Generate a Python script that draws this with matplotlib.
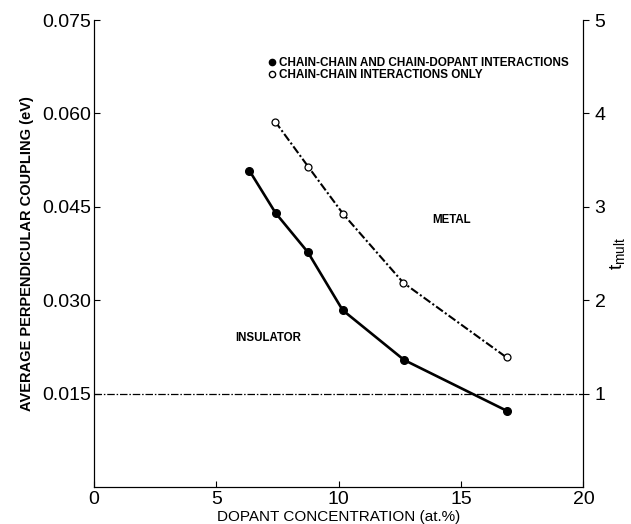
import matplotlib
matplotlib.use("Agg")
import matplotlib.pyplot as plt
from matplotlib.lines import Line2D

plt.rcParams['font.family'] = ['Liberation Sans', 'DejaVu Sans']

# data
conc_full = [6.35, 7.42, 8.74, 10.16, 12.67, 16.86]
coup_full = [0.0508, 0.0440, 0.0377, 0.0284, 0.0204, 0.01225]

conc_chain = [7.40, 8.76, 10.19, 12.64, 16.86]
coup_chain = [0.0587, 0.0514, 0.0438, 0.0328, 0.0208]

threshold = 0.015  # t_mult = 1

left_ticks = [0.015, 0.030, 0.045, 0.060, 0.075]
right_ticks = [1, 2, 3, 4, 5]
x_ticks = [0, 5, 10, 15, 20]

fig = plt.figure(figsize=(6.31, 5.24), dpi=100)
ax = fig.add_axes([0.149, 0.0706, 0.7757, 0.8912])

ax.axhline(threshold, color='black', lw=0.9, dashes=(6, 1.5, 1.2, 1.5))
ax.plot(conc_full, coup_full, color='black', lw=1.9, marker='o', ms=5.5,
        mfc='black', mec='black')
ax.plot(conc_chain, coup_chain, color='black', lw=1.5, dashes=(4, 1.2, 1, 1.2),
        marker='o', ms=5, mfc='white', mec='black', mew=0.9)

ax.set_xlim(0, 20)
ax.set_ylim(0, 0.075)
ax.set_xticks(x_ticks)
ax.set_yticks(left_ticks)
ax.set_yticklabels(['%.3f' % v for v in left_ticks])
ax.tick_params(axis='x', direction='in', length=4, labelsize=14, pad=3)
ax.tick_params(axis='y', direction='in', length=4, labelsize=14, pad=2)
ax.spines['top'].set_visible(False)

ax.set_xlabel('DOPANT CONCENTRATION (at.%)', fontsize=11, labelpad=1)
ax.set_ylabel('AVERAGE PERPENDICULAR COUPLING (eV)', fontsize=10.5,
              fontweight='bold', labelpad=6)

ax2 = ax.twinx()
ax2.set_ylim(0, 5)
ax2.set_yticks(right_ticks)
ax2.tick_params(axis='y', direction='out', length=4, labelsize=14, pad=4)
ax2.spines['top'].set_visible(False)
ax2.set_ylabel(r'$\mathregular{t_{mult}}$', fontsize=14, labelpad=2)

ax.text(7.11, 0.0239, 'INSULATOR', fontsize=8.3, fontweight='bold',
        ha='center', va='center')
ax.text(14.59, 0.0429, 'METAL', fontsize=8.3, fontweight='bold',
        ha='center', va='center')

handles = [
    Line2D([], [], ls='none', marker='o', ms=4.5, mfc='black', mec='black'),
    Line2D([], [], ls='none', marker='o', ms=4.5, mfc='white', mec='black'),
]
labels = ['CHAIN-CHAIN AND CHAIN-DOPANT INTERACTIONS',
          'CHAIN-CHAIN INTERACTIONS ONLY']
leg = ax.legend(handles, labels, loc='upper left', bbox_to_anchor=(0.357, 0.921),
                frameon=False, handlelength=0.5, handletextpad=0.4,
                labelspacing=0.0, borderpad=0, borderaxespad=0,
                prop={'size': 8.5, 'weight': 'bold'})

fig.savefig('out.png', dpi=100)
